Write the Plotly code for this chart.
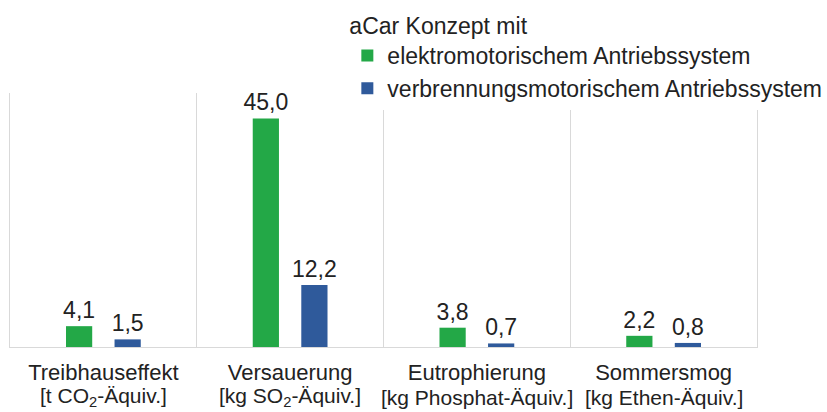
import plotly.graph_objects as go

categories = ["Treibhauseffekt", "Versauerung", "Eutrophierung", "Sommersmog"]
units = ["[t CO<sub>2</sub>-Äquiv.]", "[kg SO<sub>2</sub>-Äquiv.]",
         "[kg Phosphat-Äquiv.]", "[kg Ethen-Äquiv.]"]
series_names = ["elektromotorischem Antriebssystem",
                "verbrennungsmotorischem Antriebssystem"]
elektro = [4.1, 45.0, 3.8, 2.2]
verbrennung = [1.5, 12.2, 0.7, 0.8]
legend_title = "aCar Konzept mit"

FONT = "Liberation Sans, Arial, Helvetica, sans-serif"
TXT = "#222222"
GREEN = "#23a847"
BLUE = "#2f5a9b"
GRID = "#d9d9d9"

fig = go.Figure()
for name, vals, col in [(series_names[0], elektro, GREEN),
                        (series_names[1], verbrennung, BLUE)]:
    fig.add_trace(go.Bar(
        x=categories, y=vals, name=name,
        marker=dict(color=col, line=dict(width=0)),
        texttemplate="%{y:.1f}", textposition="outside",
        textfont=dict(family=FONT, size=23, color=TXT),
        constraintext="none", cliponaxis=False,
    ))

for cat, unit in zip(categories, units):
    fig.add_annotation(x=cat, y=0, xref="x", yref="paper",
                       text=unit, showarrow=False, yanchor="middle",
                       yshift=-50, font=dict(family=FONT, size=21, color=TXT))

fig.update_layout(
    width=827, height=412,
    margin=dict(l=10, r=70, t=93, b=65, autoexpand=False),
    paper_bgcolor="white", plot_bgcolor="white",
    separators=",.",
    barmode="group", bargap=0.48, bargroupgap=0.46,
    font=dict(family=FONT, size=23, color=TXT),
    showlegend=True,
    legend=dict(
        title=dict(text=legend_title, font=dict(family=FONT, size=23, color=TXT)),
        xref="container", yref="container",
        x=0.42, y=0.99, xanchor="left", yanchor="top",
        bgcolor="white", borderwidth=0,
        font=dict(family=FONT, size=23, color=TXT),
        tracegroupgap=0,
    ),
    xaxis=dict(
        type="category", tickson="boundaries", showgrid=True, gridcolor=GRID,
        gridwidth=1, showline=True, linecolor=GRID, linewidth=1,
        ticks="", ticklabelstandoff=6,
        tickfont=dict(family=FONT, size=22, color=TXT),
    ),
    yaxis=dict(
        range=[0, 50], showgrid=False, zeroline=False, showticklabels=False,
        showline=True, mirror=True, linecolor=GRID, linewidth=1, ticks="",
    ),
)

fig.write_html("out.html",
               config={"displayModeBar": False},
               post_script="document.body.style.margin='0';"
                           "document.body.style.overflow='hidden';")
